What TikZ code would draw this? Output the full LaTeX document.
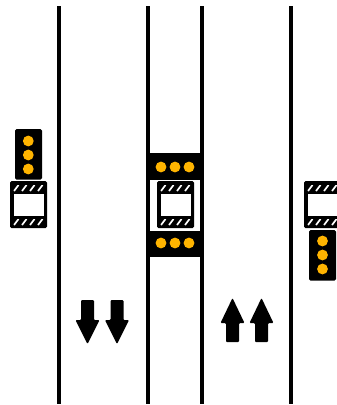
\documentclass[tikz,border=0pt]{standalone}
\tikzset{
  lane/.style={line width=3.3pt,black},
  signalbody/.style={fill=black,rounded corners=1.5pt},
  lamp/.style={fill=myamber},
  boxbody/.style={fill=black,rounded corners=1.5pt},
  boxwindow/.style={fill=white},
  hatchline/.style={white,line width=1.7pt},
  lanearrow/.style={fill=black,rounded corners=1pt},
}
\definecolor{myamber}{HTML}{FFB400}
\newcommand{\carrier}[2]{%
  \begin{scope}[shift={(#1,#2)}]
    \fill[boxbody] (0,0) rectangle (37,47);
    \fill[boxwindow] (3.5,13) rectangle (34,35);
    \foreach \yy in {10,44}{
      \begin{scope}
        \clip (3.5,\yy-6) rectangle (34,\yy);
        \foreach \xx in {4,12,20,28,36}
          \draw[hatchline] (\xx,\yy) -- (\xx+4.5,\yy-6);
      \end{scope}
    }
  \end{scope}}
\newcommand{\downarrowmark}[1]{%
  \fill[lanearrow,shift={(#1,0)}] (-6.5,300) -- (6.5,300) -- (6.5,320) -- (12,320) -- (0,344) -- (-12,320) -- (-6.5,320) -- cycle;}
\newcommand{\uparrowmark}[1]{%
  \fill[lanearrow,shift={(#1,0)}] (-6.5,342) -- (6.5,342) -- (6.5,323) -- (12,323) -- (0,298) -- (-12,323) -- (-6.5,323) -- cycle;}
\begin{document}
\begin{tikzpicture}[x=1pt,y=-1pt]
  \useasboundingbox (0,0) rectangle (337,405);
  \fill[white] (0,0) rectangle (337,405);
  % lanes
  \foreach \xx in {59,148,202,291}
    \draw[lane] (\xx,6) -- (\xx,404);
  % left
  \fill[signalbody] (15,129) rectangle (42,179.5);
  \foreach \yy in {141,155,169}
    \fill[lamp] (28.3,\yy) circle (5.4pt);
  \carrier{10}{181}
  % centre
  \fill[black] (149.5,153) rectangle (203,179.5);
  \foreach \xx in {161,175,189}
    \fill[lamp] (\xx,167) circle (5.4pt);
  \carrier{157}{181}
  \fill[black] (149.5,230.5) rectangle (203,257);
  \foreach \xx in {161,175,189}
    \fill[lamp] (\xx,243) circle (5.4pt);
  % right
  \carrier{304}{181}
  \fill[signalbody] (309,230) rectangle (336,280.5);
  \foreach \yy in {241,255,269}
    \fill[lamp] (322.5,\yy) circle (5.4pt);
  % arrows
  \downarrowmark{87.5}
  \downarrowmark{117}
  \uparrowmark{232.5}
  \uparrowmark{261.5}
\end{tikzpicture}
\end{document}
